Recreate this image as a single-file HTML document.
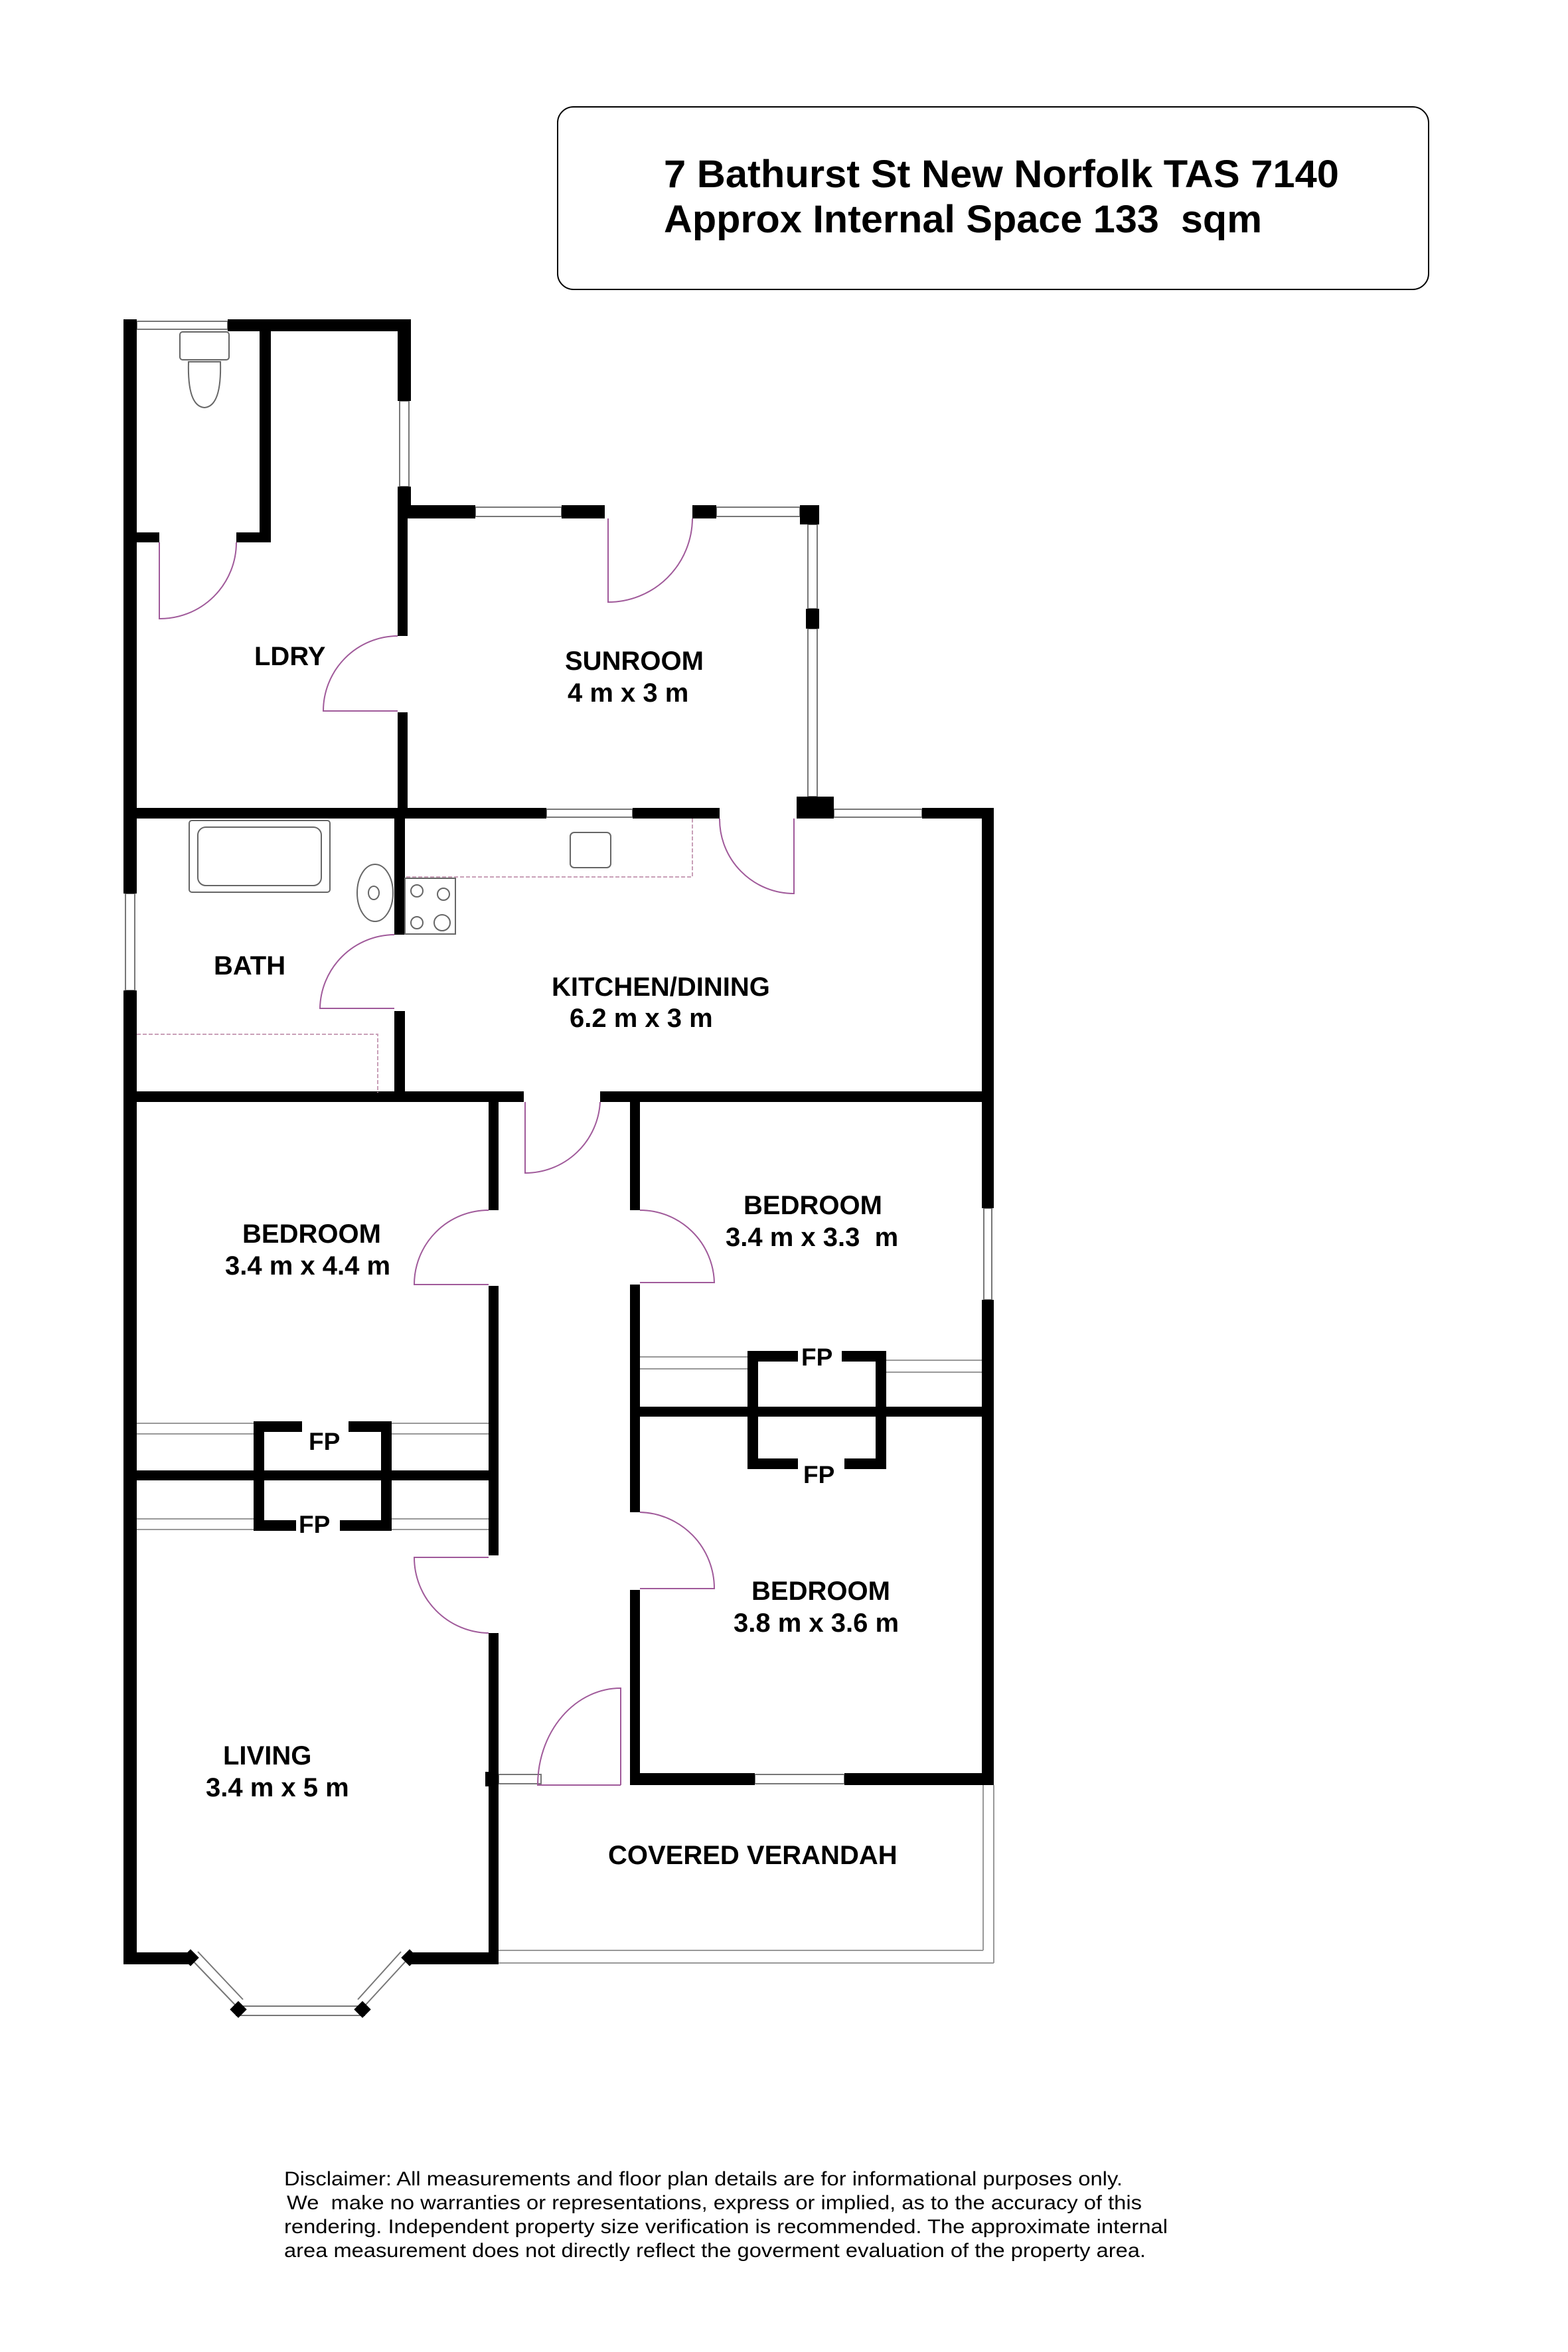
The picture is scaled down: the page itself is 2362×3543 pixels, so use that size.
<!DOCTYPE html>
<html><head><meta charset="utf-8"><style>
html,body{margin:0;padding:0;background:#fff}
svg{display:block}
text{font-family:"Liberation Sans",Arial,sans-serif;font-weight:bold;fill:#000}
.d{font-weight:normal}
</style></head><body>
<svg width="2362" height="3543" viewBox="0 0 2362 3543" xmlns="http://www.w3.org/2000/svg">
<rect width="2362" height="3543" fill="#fff"/>
<!-- header -->
<rect x="840" y="161" width="1312" height="275" rx="24" fill="none" stroke="#000" stroke-width="2"/>
<text x="1000" y="282" font-size="58" textLength="1017" lengthAdjust="spacingAndGlyphs">7 Bathurst St New Norfolk TAS 7140</text>
<text x="1000" y="350" font-size="58" textLength="901" lengthAdjust="spacingAndGlyphs" xml:space="preserve">Approx Internal Space 133  sqm</text>

<!-- windows (thin double lines) -->
<g fill="#fff" stroke="#777" stroke-width="2">
<rect x="206" y="484" width="137" height="12"/>
<rect x="602" y="604" width="14" height="129"/>
<rect x="716" y="764" width="130" height="14"/>
<rect x="1079" y="764" width="126" height="14"/>
<rect x="1217" y="790" width="14" height="127"/>
<rect x="1217" y="947" width="14" height="253"/>
<rect x="823" y="1219" width="130" height="12"/>
<rect x="1256" y="1219" width="133" height="12"/>
<rect x="189" y="1346" width="14" height="146"/>
<rect x="1482" y="1820" width="12" height="138"/>
<rect x="1137" y="2673" width="135" height="14"/>
<rect x="751" y="2673" width="64" height="14"/>
<rect x="356" y="3022" width="193" height="14"/>
</g>
<g stroke="#777" stroke-width="2" fill="none">
<path d="M285 2948 L356 3022 M298 2940 L366 3012"/>
<path d="M549 3022 L617 2948 M539 3012 L604 2940"/>
</g>

<!-- walls -->
<g fill="#000">
<rect x="186" y="481" width="20" height="865"/>
<rect x="186" y="1492" width="20" height="1467"/>
<rect x="343" y="481" width="276" height="18"/>
<rect x="599" y="481" width="20" height="123"/>
<rect x="599" y="733" width="20" height="48"/>
<rect x="391" y="498" width="17" height="319"/>
<rect x="206" y="802" width="34" height="15"/>
<rect x="356" y="802" width="52" height="15"/>
<rect x="599" y="761" width="117" height="20"/>
<rect x="846" y="761" width="65" height="20"/>
<rect x="1043" y="761" width="36" height="20"/>
<rect x="1205" y="761" width="29" height="29"/>
<rect x="1214" y="917" width="20" height="30"/>
<rect x="599" y="781" width="15" height="177"/>
<rect x="599" y="1073" width="15" height="144"/>
<rect x="206" y="1217" width="617" height="16"/>
<rect x="953" y="1217" width="131" height="16"/>
<rect x="1200" y="1200" width="56" height="33"/>
<rect x="1389" y="1217" width="108" height="16"/>
<rect x="1479" y="1217" width="18" height="603"/>
<rect x="1479" y="1958" width="18" height="731"/>
<rect x="594" y="1233" width="16" height="175"/>
<rect x="594" y="1523" width="16" height="123"/>
<rect x="206" y="1644" width="583" height="16"/>
<rect x="904" y="1644" width="593" height="16"/>
<rect x="736" y="1660" width="15" height="163"/>
<rect x="736" y="1937" width="15" height="406"/>
<rect x="736" y="2460" width="15" height="499"/>
<rect x="731" y="2669" width="20" height="22"/>
<rect x="949" y="1660" width="15" height="163"/>
<rect x="949" y="1935" width="15" height="343"/>
<rect x="949" y="2395" width="15" height="294"/>
<rect x="206" y="2215" width="530" height="15"/>
<rect x="964" y="2119" width="515" height="15"/>
<rect x="949" y="2671" width="188" height="18"/>
<rect x="1272" y="2671" width="225" height="18"/>
<rect x="186" y="2941" width="99" height="18"/>
<rect x="617" y="2941" width="134" height="18"/>
<!-- FP left -->
<rect x="382" y="2141" width="16" height="165"/>
<rect x="574" y="2141" width="16" height="165"/>
<rect x="382" y="2141" width="73" height="16"/>
<rect x="525" y="2141" width="65" height="16"/>
<rect x="382" y="2290" width="64" height="16"/>
<rect x="512" y="2290" width="78" height="16"/>
<!-- FP right -->
<rect x="1126" y="2035" width="16" height="178"/>
<rect x="1319" y="2035" width="16" height="178"/>
<rect x="1126" y="2035" width="76" height="16"/>
<rect x="1268" y="2035" width="67" height="16"/>
<rect x="1126" y="2197" width="76" height="16"/>
<rect x="1272" y="2197" width="63" height="16"/>
<!-- bay corners -->
<rect x="278" y="2940" width="18" height="18" transform="rotate(45 287 2949)"/>
<rect x="350" y="3018" width="18" height="18" transform="rotate(45 359 3027)"/>
<rect x="537" y="3018" width="18" height="18" transform="rotate(-45 546 3027)"/>
<rect x="608" y="2940" width="18" height="18" transform="rotate(-45 617 2949)"/>
</g>

<!-- hearth lines, verandah -->
<g stroke="#999" stroke-width="2" fill="none">
<path d="M206 2144H382M206 2160H382M590 2144H736M590 2160H736"/>
<path d="M206 2288H382M206 2304H382M590 2288H736M590 2304H736"/>
<path d="M964 2044H1126M964 2062H1126M1335 2049H1479M1335 2067H1479"/>
<path d="M751 2938H1481M751 2957H1497M1481 2689V2938M1497 2689V2957"/>
</g>

<!-- fixtures -->
<g stroke="#666" stroke-width="2" fill="none">
<rect x="271" y="500" width="74" height="42" rx="4"/>
<path d="M284 545 Q282 612 308 614 Q334 612 332 545 Z"/>
<rect x="285" y="1236" width="212" height="108" rx="4"/>
<rect x="298" y="1246" width="186" height="88" rx="12"/>
<ellipse cx="565" cy="1345" rx="27" ry="43"/>
<ellipse cx="563" cy="1345" rx="8" ry="10"/>
<rect x="859" y="1254" width="61" height="53" rx="6"/>
<rect x="610" y="1323" width="76" height="84"/>
<circle cx="628" cy="1342" r="9"/><circle cx="668" cy="1347" r="9"/>
<circle cx="628" cy="1390" r="9"/><circle cx="666" cy="1390" r="12"/>
</g>
<g stroke="#c9a0b8" stroke-width="2" fill="none" stroke-dasharray="6 3">
<path d="M612 1321H1043V1233"/>
<path d="M206 1558H569V1646"/>
</g>

<!-- doors -->
<g stroke="#a05a9a" stroke-width="2" fill="none">
<path d="M240 817V932A115 115 0 0 0 356 817"/>
<path d="M599 1071H487A113 113 0 0 1 599 958"/>
<path d="M916 781V907A127 127 0 0 0 1043 781"/>
<path d="M1196 1233V1346A112 112 0 0 1 1084 1233"/>
<path d="M594 1519H482A113 113 0 0 1 594 1408"/>
<path d="M791 1660V1767A113 113 0 0 0 904 1660"/>
<path d="M736 1935H624A112 112 0 0 1 736 1823"/>
<path d="M964 1932H1076A112 112 0 0 0 964 1823"/>
<path d="M736 2346H624A114 114 0 0 0 736 2460"/>
<path d="M964 2393H1076A115 115 0 0 0 964 2278"/>
<path d="M935 2689V2543A125 146 0 0 0 810 2689H935"/>
</g>

<!-- labels -->
<g font-size="40">
<text x="383" y="1002">LDRY</text>
<text x="851" y="1009">SUNROOM</text>
<text x="855" y="1057">4 m x 3 m</text>
<text x="322" y="1468">BATH</text>
<text x="831" y="1500">KITCHEN/DINING</text>
<text x="858" y="1547">6.2 m x 3 m</text>
<text x="365" y="1872">BEDROOM</text>
<text x="339" y="1920">3.4 m x 4.4 m</text>
<text x="1120" y="1829">BEDROOM</text>
<text x="1093" y="1877" xml:space="preserve">3.4 m x 3.3  m</text>
<text x="465" y="2184" font-size="37">FP</text>
<text x="450" y="2309" font-size="37">FP</text>
<text x="1207" y="2057" font-size="37">FP</text>
<text x="1210" y="2234" font-size="37">FP</text>
<text x="1132" y="2410">BEDROOM</text>
<text x="1105" y="2458">3.8 m x 3.6 m</text>
<text x="336" y="2658">LIVING</text>
<text x="310" y="2706">3.4 m x 5 m</text>
<text x="916" y="2808">COVERED VERANDAH</text>
</g>

<!-- disclaimer -->
<g class="d" font-size="30">
<text class="d" x="428" y="3292" textLength="1263" lengthAdjust="spacingAndGlyphs">Disclaimer: All measurements and floor plan details are for informational purposes only.</text>
<text class="d" x="432" y="3328" textLength="1288" lengthAdjust="spacingAndGlyphs" xml:space="preserve">We  make no warranties or representations, express or implied, as to the accuracy of this</text>
<text class="d" x="428" y="3364" textLength="1331" lengthAdjust="spacingAndGlyphs">rendering. Independent property size verification is recommended. The approximate internal</text>
<text class="d" x="428" y="3400" textLength="1298" lengthAdjust="spacingAndGlyphs">area measurement does not directly reflect the goverment evaluation of the property area.</text>
</g>
</svg>
</body></html>
